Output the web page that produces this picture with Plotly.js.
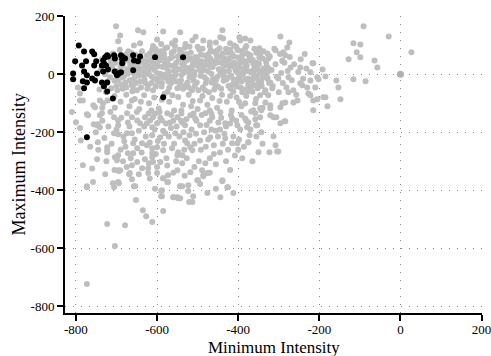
<!DOCTYPE html>
<html>
<head>
<meta charset="utf-8">
<script src="https://cdn.plot.ly/plotly-3.0.1.min.js"></script>
<style>html,body{margin:0;padding:0;background:#fff;}#chart{width:491px;height:356px;}</style>
</head>
<body>
<div id="chart"></div>
<script>
// Tick values and labels
const xTickVals = [-800, -600, -400, -200, 0, 200];
const xTickText = ["-800", "-600", "-400", "-200", "0", "200"];
const yTickVals = [-800, -600, -400, -200, 0, 200];
const yTickText = ["-800", "-600", "-400", "-200", "0", "200"];
const xTitle = "Minimum Intensity";
const yTitle = "Maximum Intensity";

// Gray points: dense band near zero
const grayBand = [
[-742,-52],[-738,18],[-731,-40],[-726,-62],[-720,28],[-716,-10],[-713,-48],[-709,72],[-705,-22],[-702,40],[-698,-55],[-695,12],[-692,85],[-688,-35],[-685,30],[-682,-8],[-679,62],[-676,-45],[-673,18],[-670,48],[-667,-20],[-664,75],[-661,-58],[-658,5],[-655,35],[-652,-30],[-649,58],[-646,-5],[-643,22],[-640,-45],[-637,80],[-634,42],[-631,-18],[-628,8],[-625,65],[-622,-38],[-619,28],[-616,50],[-613,-8],[-610,-55],[-607,15],[-604,88],[-601,38],[-598,-25],[-595,62],[-592,2],[-589,-42],[-586,25],[-583,72],[-580,-12],[-577,45],[-574,-60],[-571,10],[-568,55],[-565,-30],[-562,30],[-559,80],[-556,-5],[-553,40],[-550,-48],[-547,18],[-544,68],[-541,-20],[-538,35],[-535,5],[-532,92],[-529,-38],[-526,50],[-523,22],[-520,-10],[-517,75],[-514,-55],[-511,42],[-508,8],[-505,60],[-502,-28],[-499,28],[-496,85],[-493,-5],[-490,45],[-487,-45],[-484,15],[-481,65],[-478,-18],[-475,35],[-472,-62],[-469,55],[-466,2],[-463,25],[-460,78],[-457,-35],[-454,48],[-451,-8],[-448,18],[-445,62],[-442,-50],[-439,38],[-436,-22],[-433,8],[-430,88],[-427,52],[-424,-40],[-421,28],[-418,-5],[-415,70],[-412,-60],[-409,40],[-406,12],[-403,-28],[-400,58],[-397,22],[-394,-45],[-391,80],[-388,0],[-385,45],[-382,-18],[-379,30],[-376,-58],[-373,65],[-370,10],[-367,-35],[-364,50],[-361,18],[-358,-8],[-355,75],[-352,-48],[-349,35],[-346,5],[-343,-25],[-340,55],[-337,20],[-334,-62],[-331,42],[-328,-12],
[-735,52],[-728,0],[-722,-25],[-714,45],[-707,12],[-700,-40],[-694,60],[-689,-12],[-683,42],[-678,-28],[-672,2],[-666,35],[-660,-42],[-654,68],[-648,10],[-642,-25],[-636,50],[-630,28],[-624,-50],[-618,72],[-612,40],[-606,-15],[-600,5],[-594,48],[-588,-30],[-582,58],[-576,22],[-570,-45],[-564,75],[-558,12],[-552,-25],[-546,52],[-540,-2],[-534,30],[-528,70],[-522,-45],[-516,15],[-510,-22],[-504,40],[-498,-55],[-492,68],[-486,30],[-480,-30],[-474,10],[-468,82],[-462,-15],[-456,38],[-450,-42],[-444,5],[-438,72],[-432,30],[-426,-12],[-420,55],[-414,-35],[-408,22],[-402,85],[-396,-8],[-390,42],[-384,-52],[-378,12],[-372,62],[-366,-22],[-360,30],[-354,-5],[-348,58],[-342,-40],[-336,10],[-330,28],[-324,-30],
[-690,25],[-680,5],[-668,58],[-657,-15],[-645,40],[-633,-5],[-621,15],[-609,62],[-597,28],[-585,-8],[-573,35],[-561,-15],[-549,62],[-537,15],[-525,-28],[-513,28],[-501,52],[-489,12],[-477,48],[-465,-28],[-453,65],[-441,18],[-429,-18],[-417,35],[-405,-42],[-393,55],[-381,18],[-369,-48],[-357,40],[-345,72],[-333,0],
[-685,-50],[-675,70],[-662,28],[-650,-55],[-638,12],[-626,45],[-614,-30],[-603,-40],[-591,80],[-579,0],[-567,-8],[-555,25],[-543,-35],[-531,45],[-519,2],[-507,-40],[-495,15],[-483,-10],[-471,28],[-459,-52],[-447,42],[-435,55],[-423,12],[-411,-18],[-399,35],[-387,20],[-375,-30],[-363,-15],[-351,15],[-339,-10],
[-716,60],[-711,25],[-697,-20],[-687,50],[-677,10],[-671,80],[-663,-35],[-651,20],[-641,62],[-629,-30],[-620,0],[-611,25],[-602,70],[-593,-10],[-581,42],[-572,-25],[-563,60],[-554,0],[-545,85],[-536,-50],[-527,10],[-518,55],[-509,-5],[-500,95],[-491,32],[-482,-55],[-473,70],[-464,45],[-455,-20],[-446,90],[-437,-5],[-428,45],[-419,-50],[-410,62],[-401,5],[-392,-25],[-383,90],[-374,48],[-365,-60],[-356,25],[-347,-30],[-338,80],
[-612,85],[-580,90],[-556,98],[-540,75],[-488,88],[-452,82],[-426,75],[-405,95],[-380,98],[-360,88],[-420,85],[-470,110],[-590,105],
[-322,62],[-318,15],[-315,-40],[-311,88],[-308,35],[-305,-8],[-300,-62],[-297,70],[-294,5],[-290,-30],[-286,40],[-281,-45],[-278,12],[-273,60],[-268,-20],[-262,35],[-257,-70],[-252,8],[-246,52],[-240,-15],[-236,70],[-232,20]
];

// Gray points above the band
const grayUpper = [
[-701,166],[-691,134],[-696,114],[-647,152],[-634,145],[-585,148],[-543,145],[-642,107],[-657,100],[-555,117],[-563,107],[-575,93],[-513,117],[-486,117],[-439,152],[-437,124],[-420,107],[-395,117],[-444,128],[-397,128],[-383,124],[-370,117],[-296,131],[-348,90],[-308,83],[-279,93],[-274,110],[-610,98],[-530,105],[-470,98],[-455,110],[-600,120],[-520,95],[-410,100],[-505,130]
];

// Gray points to the right of the band
const grayRight = [
[-400,83],[-390,66],[-378,72],[-370,66],[-395,48],[-370,55],[-328,72],[-326,55],[-291,48],[-350,38],[-363,38],[-383,38],[-400,31],[-326,21],[-271,24],[-247,24],[-215,38],[-341,14],[-328,7],[-363,3],[-390,3],[-400,-14],[-375,-14],[-350,-21],[-328,-14],[-321,-28],[-301,-14],[-276,-10],[-222,-21],[-205,-10],[-375,-38],[-358,-38],[-333,-55],[-316,-48],[-390,-62],[-346,-72],[-276,-62],[-264,-55],[-247,-31],[-242,-38],[-230,-45],[-210,-45],[-222,-72],[-215,-90],[-326,-72],[-321,-107],[-358,-100],[-383,-100],[-291,-100],[-284,-97],[-264,-97],[-254,-90],[-190,-79],[-215,-124],[-284,66],[-289,76],[-291,45],[-217,38],[-222,7],[-227,-66],[-192,17],[-185,-7],[-202,-17],[-158,-21],[-153,-45],[-148,-86],[-185,-79],[-180,-110],[-205,-86],
[-91,166],[-29,131],[27,76],[-116,107],[-99,103],[-108,76],[-99,59],[-128,52],[-64,48],[-57,24],[-116,-17],[-86,-24]
];

// Gray points below the band (the fan)
const grayFan = [
[-705,-75],[-690,-95],[-676,-70],[-668,-110],[-655,-85],[-644,-120],[-632,-72],[-620,-100],[-607,-80],[-596,-118],[-582,-68],[-570,-95],[-558,-125],[-548,-78],[-536,-105],[-522,-70],[-512,-92],[-500,-120],[-488,-75],[-476,-105],[-464,-82],[-452,-115],[-440,-70],[-428,-95],[-416,-125],[-404,-80],[-392,-110],[-380,-75],[-368,-128],[-356,-85],[-340,-115],[-662,-90],[-640,-95],[-614,-125],[-588,-88],[-562,-72],[-540,-125],[-516,-110],[-494,-90],[-470,-125],[-446,-92],[-420,-75],[-398,-95],[-722,-90],[-735,-115],[-757,-107],[-741,-90],[-733,-100],[-704,-115],[-795,-45],[-790,-66],[-790,-90],[-837,-83],
[-773,-138],[-736,-134],[-741,-141],[-706,-148],[-696,-159],[-696,-176],[-674,-134],[-672,-166],[-662,-148],[-649,-159],[-642,-169],[-630,-148],[-617,-159],[-625,-169],[-612,-183],[-756,-172],[-746,-172],[-751,-200],[-788,-228],[-746,-234],[-723,-252],[-723,-262],[-706,-203],[-696,-207],[-674,-203],[-662,-203],[-681,-231],[-659,-238],[-649,-255],[-637,-238],[-625,-245],[-612,-255],[-672,-272],[-659,-272],[-612,-272],[-704,-286],[-696,-279],[-699,-297],[-630,-293],[-620,-307],[-649,-303],[-662,-314],[-637,-324],[-622,-324],[-667,-341],[-748,-293],[-696,-331],[-783,-314],[-758,-372],[-773,-390],[-709,-376],[-696,-372],[-657,-386],[-652,-434],[-635,-469],
[-773,-386],[-706,-390],[-694,-376],[-654,-386],[-723,-517],[-679,-521],[-704,-593],[-773,-724],[-627,-490],[-612,-510],[-585,-472],[-590,-403],[-590,-421],[-585,-359],[-573,-372],[-573,-348],[-560,-424],[-550,-424],[-543,-428],[-543,-386],[-538,-386],[-523,-403],[-521,-441],[-511,-421],[-501,-366],[-494,-379],[-486,-352],[-476,-341],[-476,-410],[-444,-424],[-439,-369],[-427,-390],[-669,-345],[-662,-362],[-622,-341],[-600,-341],[-691,-331],
[-610,-148],[-600,-169],[-588,-159],[-575,-134],[-568,-166],[-550,-148],[-538,-166],[-531,-176],[-518,-141],[-506,-152],[-494,-176],[-481,-134],[-464,-148],[-444,-131],[-449,-166],[-432,-169],[-415,-152],[-402,-176],[-612,-210],[-592,-217],[-580,-203],[-555,-203],[-531,-228],[-526,-238],[-518,-252],[-513,-262],[-494,-228],[-469,-217],[-432,-221],[-415,-238],[-600,-252],[-585,-262],[-563,-255],[-548,-269],[-538,-279],[-550,-279],[-612,-286],[-610,-303],[-592,-303],[-538,-307],[-518,-338],[-481,-307],[-489,-331],[-486,-348],[-499,-366],[-523,-383],[-543,-386],[-550,-331],[-585,-359],[-575,-372],[-439,-366],[-425,-390],[-412,-410],[-588,-400],[-588,-421],[-560,-424],[-548,-428],[-513,-441],
[-363,-124],[-358,-134],[-343,-124],[-383,-152],[-375,-166],[-358,-155],[-346,-148],[-321,-141],[-313,-148],[-306,-148],[-296,-169],[-286,-162],[-378,-183],[-356,-176],[-402,-238],[-375,-234],[-343,-200],[-313,-214],[-308,-245],[-301,-266],[-350,-269],[-323,-269],[-304,-266],[-375,-234],[-353,-176],[-284,-162],[-296,-114],[-333,-97],[-346,-117],[-321,-117],
[-605,-135],[-592,-150],[-578,-170],[-565,-140],[-552,-180],[-540,-135],[-528,-155],[-515,-190],[-503,-160],[-490,-140],[-478,-175],[-466,-135],[-455,-195],[-442,-150],[-430,-180],[-418,-140],[-405,-160],[-395,-190],[-585,-195],[-560,-160],[-535,-200],[-510,-135],[-470,-160],[-445,-190],[-420,-170],
[-460,-245],[-445,-270],[-400,-260],[-390,-290],[-470,-290],[-455,-310],[-430,-300],
[-753,-114],[-770,-141],[-783,-90],[-748,-176],[-741,-183],[-723,-269],[-699,-286],[-694,-334],
[-715,-130],[-700,-190],[-688,-150],[-683,-215],[-678,-250],[-668,-180],[-665,-290],[-655,-225],[-650,-130],[-645,-195],[-638,-270],[-632,-180],[-628,-215],[-621,-135],[-618,-235],[-606,-190],[-603,-275],[-598,-230],[-594,-130],[-583,-240],[-577,-290],[-571,-215],[-566,-185],[-558,-240],[-553,-300],[-545,-215],[-541,-160],[-533,-260],[-527,-290],[-520,-210],[-508,-240],[-504,-205],[-497,-300],[-492,-260],[-484,-200],[-480,-250],[-474,-225],[-466,-190],[-460,-275],[-450,-215],[-438,-240],[-434,-205],[-425,-260],[-412,-215],[-408,-280],[-398,-225],[-386,-250],[-372,-210],[-365,-300],[-392,-140],[-380,-160],[-370,-190],[-355,-215],[-340,-240],
[-745,-260],[-730,-220],[-725,-300],[-712,-240],[-705,-330],[-690,-260],[-684,-300],[-675,-320],[-645,-345],[-618,-360],[-605,-395],[-560,-340],[-532,-350],[-508,-320],[-470,-340],[-455,-395],[-420,-330],[-600,-320],[-575,-315],
[-810,-130],[-800,-165],[-765,-250],[-790,-185],[-760,-325],[-735,-160],[-720,-180],[-728,-345]
];

// Point at the origin (drawn slightly darker)
const grayOrigin = [[0,0]];

// Black highlighted points
const blackPts = [
[-793,100],[-802,45],[-807,3],[-807,-17],[-780,79],[-775,45],[-785,31],[-760,79],[-755,69],[-750,45],[-755,31],[-748,3],[-780,10],[-773,-3],[-783,-24],[-773,-28],[-780,-48],[-760,-14],[-753,-21],[-733,48],[-728,59],[-723,66],[-721,62],[-736,31],[-731,38],[-726,31],[-733,10],[-736,-28],[-723,-28],[-731,-41],[-723,-59],[-709,-83],[-721,17],[-706,66],[-704,55],[-689,66],[-686,52],[-684,59],[-679,55],[-686,38],[-704,10],[-699,-3],[-694,3],[-689,7],[-659,66],[-657,48],[-642,62],[-647,45],[-659,14],[-605,59],[-536,59],[-585,-79],[-773,-217]
];

const allGray = grayBand.concat(grayUpper, grayRight, grayFan);

const serif = "Liberation Serif, Times New Roman, serif";

const traces = [
  {x: allGray.map(p => p[0]), y: allGray.map(p => p[1]), type: "scatter", mode: "markers",
   marker: {color: "#bebebe", size: 6, line: {width: 0}}, cliponaxis: false, hoverinfo: "skip"},
  {x: grayOrigin.map(p => p[0]), y: grayOrigin.map(p => p[1]), type: "scatter", mode: "markers",
   marker: {color: "#b0b0b0", size: 7, line: {width: 0}}, cliponaxis: false, hoverinfo: "skip"},
  {x: blackPts.map(p => p[0]), y: blackPts.map(p => p[1]), type: "scatter", mode: "markers",
   marker: {color: "#000000", size: 6, line: {width: 0}}, cliponaxis: false, hoverinfo: "skip"}
];

const axisCommon = {
  tickmode: "array",
  showline: true, linecolor: "#000", linewidth: 2,
  ticks: "outside", ticklen: 6, tickwidth: 2, tickcolor: "#000",
  showgrid: true, gridcolor: "#888", gridwidth: 1, griddash: "1px,7px",
  zeroline: false,
  ticklabeloverflow: "allow",
  tickfont: {family: serif, size: 13, color: "#000"},
  automargin: false,
  fixedrange: true
};

const layout = {
  width: 491, height: 356,
  margin: {l: 65, r: 9, t: 16, b: 43},
  paper_bgcolor: "#fff", plot_bgcolor: "#fff",
  showlegend: false,
  font: {family: serif, color: "#000"},
  xaxis: Object.assign({}, axisCommon, {
    range: [-827, 201], tickvals: xTickVals, ticktext: xTickText, ticklabelstandoff: -3
  }),
  yaxis: Object.assign({}, axisCommon, {
    range: [-824, 201.5], tickvals: yTickVals, ticktext: yTickText
  }),
  annotations: [{
    text: xTitle, xref: "paper", yref: "paper", x: 0.5, y: 0,
    xanchor: "center", yanchor: "top", yshift: -24, borderpad: 0, showarrow: false,
    font: {family: serif, size: 17, color: "#000"}
  }, {
    text: yTitle, xref: "paper", yref: "paper", x: 0, y: 0.5,
    xanchor: "center", yanchor: "middle", xshift: -47, textangle: -90, showarrow: false,
    font: {family: serif, size: 18, color: "#000"}
  }]
};

Plotly.newPlot("chart", traces, layout, {staticPlot: true, displayModeBar: false});
</script>
</body>
</html>
